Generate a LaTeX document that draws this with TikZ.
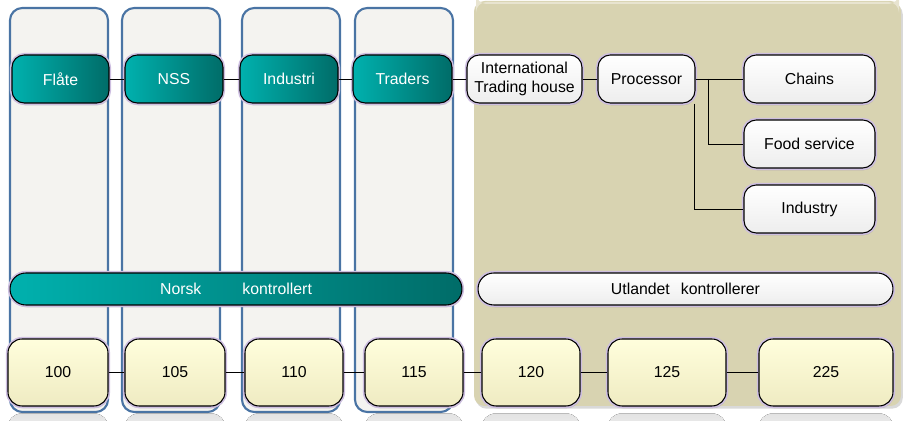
\documentclass[tikz,border=0pt]{standalone}
\usepackage{fontspec}
\setmainfont{Liberation Sans}
\usetikzlibrary{shadows,calc}
\definecolor{colfill}{HTML}{F4F3F0}
\definecolor{colline}{HTML}{4A74A4}
\definecolor{panel}{HTML}{D8D3B1}
\definecolor{tealL}{HTML}{00B1AE}
\definecolor{tealR}{HTML}{006C68}
\definecolor{cream}{HTML}{FFFEDC}
\definecolor{creamD}{HTML}{EFEBC2}
\definecolor{glow}{HTML}{CDBEE0}
\tikzset{
	base/.style={rounded corners=7pt, draw=black, line width=0.6pt, align=center, inner sep=0pt,
		font=\fontsize{9}{10.5}\selectfont,
		drop shadow={shadow xshift=0.5pt, shadow yshift=-1.3pt, opacity=0.35},
		preaction={draw=glow, line width=2.4pt}},
	tealbox/.style={base, left color=tealL, right color=tealR, text=white},
	whitebox/.style={base, top color=white, bottom color=black!7},
	numbox/.style={base, rounded corners=8pt, top color=cream, bottom color=creamD, minimum height=1.34cm},
	column/.style={draw=colline, fill=colfill, line width=1.2pt, rounded corners=7pt},
	refl/.style={top color=black!11, bottom color=white, rounded corners=8pt},
	link/.style={line width=0.55pt}
}

\begin{document}
\begin{tikzpicture}[x=0.02cm, y=-0.02cm]
		%%%%% START %%%%%
		\useasboundingbox (0,0) rectangle (904,421);
		
		% background panel and columns
		\fill[panel, rounded corners=6pt, drop shadow={shadow xshift=1pt, shadow yshift=-1.5pt, opacity=0.3}] (474,1) rectangle (901,406);
		\fill[panel!60!white, rounded corners=6pt] (476,2) rectangle (899,4);
		\draw[column] (10,8) rectangle (108,412);
		\draw[column] (122,8) rectangle (220,412);
		\draw[column] (242,8) rectangle (340,412);
		\draw[column] (355,8) rectangle (453,412);
		
		% top chain
		\node[tealbox, minimum width=1.94cm, minimum height=0.96cm] (flate) at (60.5,79) {Flåte};
		\node[tealbox, minimum width=1.96cm, minimum height=0.96cm] (nss) at (174,79) {NSS};
		\node[tealbox, minimum width=1.96cm, minimum height=0.96cm] (industri) at (289,79) {Industri};
		\node[tealbox, minimum width=1.98cm, minimum height=0.96cm] (traders) at (402.5,79) {Traders};
		\node[whitebox, minimum width=2.3cm, minimum height=0.96cm] (trading) at (524.5,79) {International\\Trading house};
		\node[whitebox, minimum width=1.94cm, minimum height=0.96cm] (proc) at (646.5,79) {Processor};
		\node[whitebox, minimum width=2.62cm, minimum height=0.96cm] (chains) at (809.5,79) {Chains};
		\node[whitebox, minimum width=2.62cm, minimum height=0.96cm] (food) at (809.5,144) {Food service};
		\node[whitebox, minimum width=2.62cm, minimum height=0.96cm] (industry) at (809.5,209) {Industry};
		
		\draw[link] (flate.east) -- (nss.west);
		\draw[link] (nss.east) -- (industri.west);
		\draw[link] (industri.east) -- (traders.west);
		\draw[link] (traders.east) -- (trading.west);
		\draw[link] (trading.east) -- (proc.west);
		\draw[link] (proc.east) -- (chains.west);
		\draw[link] ($(proc.east)+(13,0)$) |- (food.west);
		\draw[link] ($(proc.south east)+(-1,0)$) |- (industry.west);
		
		% control bars
		\node[tealbox, rounded corners=9pt, minimum width=9.04cm, minimum height=0.64cm] (norsk) at (236,289) {Norsk\hspace{2.6em}kontrollert};
		\node[whitebox, rounded corners=9pt, minimum width=8.3cm, minimum height=0.64cm] (utland) at (685.5,289) {Utlandet\hspace{0.7em}kontrollerer};
		
		% bottom chain
		\node[numbox, minimum width=2.0cm] (n100) at (58,372.5) {100};
		\node[numbox, minimum width=2.0cm] (n105) at (175,372.5) {105};
		\node[numbox, minimum width=1.96cm] (n110) at (294,372.5) {110};
		\node[numbox, minimum width=1.96cm] (n115) at (414,372.5) {115};
		\node[numbox, minimum width=1.96cm] (n120) at (531,372.5) {120};
		\node[numbox, minimum width=2.36cm] (n125) at (667,372.5) {125};
		\node[numbox, minimum width=2.68cm] (n225) at (826,372.5) {225};
		
		\draw[link] (n100.east) -- (n105.west);
		\draw[link] (n105.east) -- (n110.west);
		\draw[link] (n110.east) -- (n115.west);
		\draw[link] (n115.east) -- (n120.west);
		\draw[link] (n120.east) -- (n125.west);
		\draw[link] (n125.east) -- (n225.west);
		
		% reflections
		\foreach \n in {n100,n105,n110,n115,n120,n125,n225}
			\fill[refl] ($(\n.south west)+(0,7)$) rectangle ($(\n.south east)+(0,47)$);
		
		%%%%% END %%%%%
	\end{tikzpicture}
\end{document}
